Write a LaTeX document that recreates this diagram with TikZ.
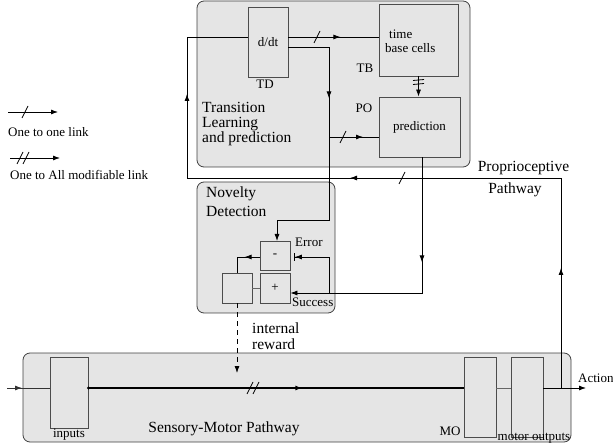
\documentclass[tikz,border=0pt]{standalone}
\usepackage{fontspec}
\setmainfont{Liberation Serif}
\usetikzlibrary{arrows.meta,decorations.markings}

\newcommand{\labfont}{\fontsize{13}{14}\selectfont}
\newcommand{\headfont}{\fontsize{15.5}{15}\selectfont}
\newcommand{\oneslash}[1]{\draw[link] (#1) ++(-3,6) -- ++(6,-12);}
\newcommand{\twoslash}[1]{\draw[link] (#1) ++(-6,6) -- ++(6,-12) (#1) ++(0,6) -- ++(6,-12);}
\newcommand{\twotick}[1]{\draw[link] (#1) ++(-5,0.5) -- ++(11,-1) (#1) ++(-5,4.5) -- ++(11,-1);}

\tikzset{
  panel/.style={draw=black!75, fill=black!10, rounded corners=7pt, line width=0.8pt, inner sep=0pt},
  unit/.style={draw=black!70, fill=black!10, line width=0.8pt, inner sep=0pt, font=\labfont},
  link/.style={line width=0.8pt},
  endtip/.style={-{Latex[length=7pt,width=5pt]}},
  midtip/.style={postaction={decorate, decoration={markings, mark=at position #1 with {\arrow{Latex[length=7pt,width=5pt]}}}}},
  lab/.style={font=\labfont, inner sep=0pt},
  heading/.style={font=\headfont, inner sep=0pt, align=left},
}

\begin{document}
\begin{tikzpicture}[x=1pt,y=-1pt]
  \useasboundingbox (0,0) rectangle (613,446);

  % the three areas
  \node[panel, minimum width=273pt, minimum height=166pt] (trans) at (333.5,84) {};
  \node[panel, minimum width=138pt, minimum height=131pt] (novel) at (266,247.5) {};
  \node[panel, minimum width=548pt, minimum height=89pt] (senso) at (297,397.5) {};

  \node[heading, anchor=north west] at (202,101.7) {Transition\\Learning\\and prediction};
  \node[heading, anchor=north west, font=\fontsize{15.5}{19}\selectfont] at (206,186.4) {Novelty\\Detection};
  \node[heading, anchor=base] at (224,432) {Sensory-Motor Pathway};

  % groups of cells
  \node[unit, minimum width=40pt, minimum height=70pt] (dd) at (268,42) {d/dt};
  \node[lab, anchor=base] at (265,89) {TD};
  \node[unit, minimum width=79pt, minimum height=72pt] (tb) at (418.5,40) {};
  \node[lab, anchor=north west, align=left] at (385,30) {\hspace*{4pt}time\\base cells};
  \node[lab, anchor=base] at (365,73) {TB};
  \node[unit, minimum width=81pt, minimum height=60pt] (pred) at (419.5,127) {prediction};
  \node[lab, anchor=base] at (364,113) {PO};

  \node[unit, minimum width=30pt, minimum height=29pt] (minus) at (275,255.5) {-};
  \node[unit, minimum width=30pt, minimum height=30pt] (plus) at (275,288) {+};
  \node[unit, minimum width=30pt, minimum height=30pt] (sq) at (237,288) {};
  \node[lab, anchor=base west] at (295,247) {Error};
  \node[lab, anchor=base west] at (292,306.7) {Success};

  \node[unit, minimum width=38pt, minimum height=71pt] (inputs) at (69,392.5) {};
  \node[lab, anchor=base] at (69,437.5) {inputs};
  \node[unit, minimum width=32pt, minimum height=80pt] (mo) at (480,397) {};
  \node[lab, anchor=base] at (450,435) {MO};
  \node[unit, minimum width=32pt, minimum height=80pt] (mout) at (527,397) {};
  \node[lab, anchor=base] at (534,440) {motor outputs};

  % sensory-motor line
  \coordinate (src) at (7,388);
  \coordinate (act) at (561,388);
  \coordinate (acttip) at (586,388);
  \draw[link, draw=black!80, midtip=15pt] (src) -- (inputs.west |- act);
  \draw[line width=1.8pt, midtip=214pt] (inputs.east |- act) -- (mo.west |- act);
  \fill (inputs.east |- act) circle (1.6pt);
  \twoslash{253,388}
  \draw[link, draw=black!60] (mo.east |- act) -- (mout.west |- act);
  \draw[link, endtip] (mout.east |- act) -- (acttip);
  \node[lab, anchor=base west] at (578,382) {Action};

  % proprioceptive pathway
  \draw[link, midtip=120pt, midtip=421pt, midtip=668pt]
    (act) -- (561,178) -- (187,178) -- (187,37) -- ([yshift=5pt]dd.west);
  \oneslash{402,178}
  \node[heading, anchor=base] at (523.5,172) {Proprioceptive};
  \node[heading, anchor=base] at (515,194) {Pathway};

  % transition learning
  \draw[link, midtip=52pt] ([yshift=5pt]dd.east) coordinate (ddo) -- (ddo -| tb.west);
  \oneslash{317,37}
  \draw[link, midtip=92pt, endtip]
    ([yshift=-5pt]dd.east) -- (329,47) -- (329,220) -- (277,220) -- (277,241);
  \draw[link, midtip=34pt] (329,137) coordinate (br) -- (br -| pred.west);
  \oneslash{343,137}
  \draw[link, endtip] (tb.south) -- (tb.south |- pred.north);
  \twotick{418,80}

  % novelty detection
  \coordinate (po) at ([xshift=2.5pt]pred.south);
  \coordinate (sin) at ([yshift=-5pt]plus.east);
  \draw[link, midtip=105pt, endtip] (po) -- (po |- sin) -- (sin);
  \coordinate (ej) at (329,293);
  \coordinate (eb) at (294,257);
  \draw[link, -{Latex[length=7pt,width=5pt] Bar[width=8pt]}] (ej) -- (ej |- eb) -- (eb);
  \draw[link, midtip=15pt] (minus.west |- eb) -- (sq.north |- eb) -- (sq.north);
  \draw[link, draw=black!60] (plus.west) -- (sq.east);
  \draw[link, endtip, dash pattern=on 5pt off 4pt] (sq.south) -- (sq.south |- 0,373);
  \node[heading, anchor=north west, font=\fontsize{15.5}{16}\selectfont] at (252,322.4) {internal\\reward};

  % legend
  \coordinate (la) at (8,112);
  \coordinate (lb) at (58,112);
  \draw[link, endtip] (la) -- (lb);
  \oneslash{25,112}
  \node[lab, anchor=base west] at (8,136.7) {One to one link};
  \coordinate (lc) at (10,158);
  \coordinate (ld) at (60,158);
  \draw[link, endtip] (lc) -- (ld);
  \twoslash{23,158}
  \node[lab, anchor=base west] at (10,179.3) {One to All modifiable link};
\end{tikzpicture}
\end{document}
